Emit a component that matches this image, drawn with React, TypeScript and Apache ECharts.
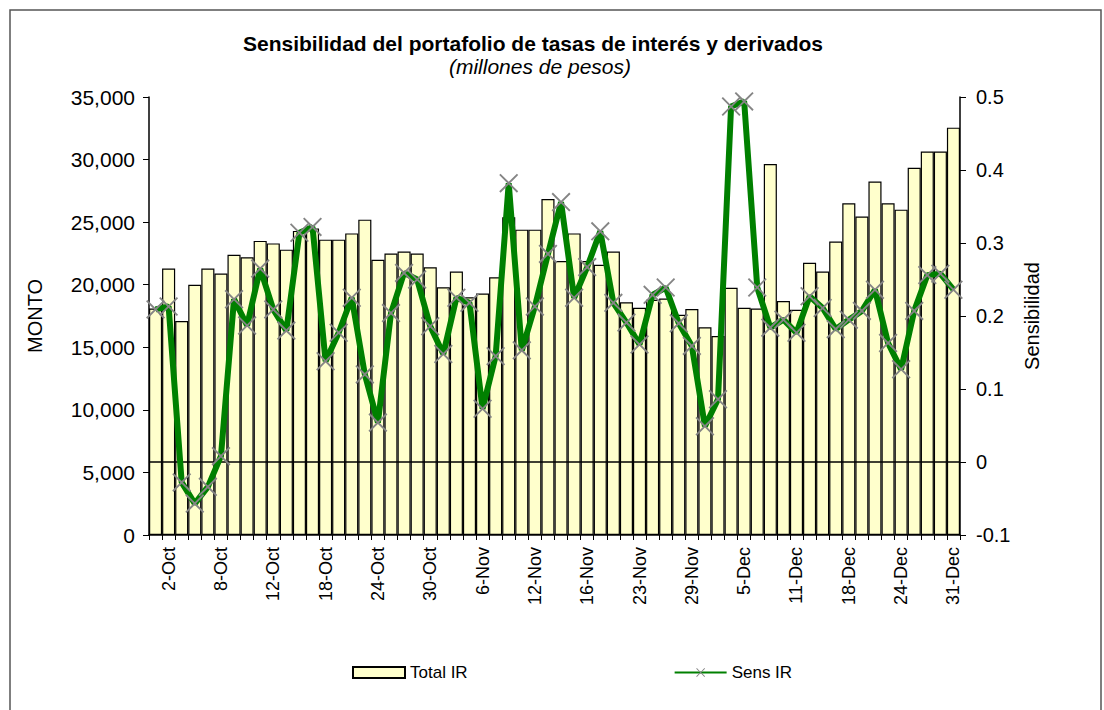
import React, { useEffect, useRef } from "react";
import * as echarts from "echarts";

const categories = [
  "1-Oct", "2-Oct", "3-Oct", "4-Oct", "5-Oct", "8-Oct", "9-Oct", "10-Oct", "11-Oct", "12-Oct",
  "15-Oct", "16-Oct", "17-Oct", "18-Oct", "19-Oct", "22-Oct", "23-Oct", "24-Oct", "25-Oct", "26-Oct",
  "29-Oct", "30-Oct", "31-Oct", "1-Nov", "5-Nov", "6-Nov", "7-Nov", "8-Nov", "9-Nov", "12-Nov",
  "13-Nov", "14-Nov", "15-Nov", "16-Nov", "20-Nov", "21-Nov", "22-Nov", "23-Nov", "26-Nov", "27-Nov",
  "28-Nov", "29-Nov", "30-Nov", "3-Dec", "4-Dec", "5-Dec", "6-Dec", "7-Dec", "10-Dec", "11-Dec",
  "13-Dec", "14-Dec", "17-Dec", "18-Dec", "19-Dec", "20-Dec", "21-Dec", "24-Dec", "26-Dec", "27-Dec",
  "28-Dec", "31-Dec",
];

const totalIR = [
  18100, 21300, 17100, 20000, 21300, 20900, 22400, 22200, 23500, 23300,
  22800, 24300, 24500, 23600, 23600, 24100, 25200, 22000, 22500, 22650,
  22500, 21400, 19800, 21050, 19000, 19300, 20600, 25400, 24400, 24400,
  26850, 21900, 24100, 21900, 21600, 22650, 18600, 18150, 18800, 18900,
  17600, 18050, 16600, 15900, 19750, 18150, 18100, 29650, 18700, 18000,
  21750, 21050, 23450, 26500, 25450, 28250, 26500, 26000, 29350, 30650,
  30650, 32550,
];

const sensIR = [
  0.209, 0.213, -0.028, -0.057, -0.034, 0.008, 0.223, 0.187, 0.265, 0.209,
  0.18, 0.314, 0.322, 0.138, 0.177, 0.225, 0.12, 0.054, 0.204, 0.259,
  0.25, 0.186, 0.148, 0.225, 0.218, 0.073, 0.145, 0.382, 0.153, 0.213,
  0.285, 0.356, 0.225, 0.267, 0.316, 0.218, 0.191, 0.161, 0.229, 0.239,
  0.19, 0.159, 0.049, 0.086, 0.487, 0.494, 0.239, 0.184, 0.195, 0.177,
  0.227, 0.211, 0.182, 0.195, 0.207, 0.236, 0.163, 0.127, 0.207, 0.256,
  0.258, 0.236,
];

const titleText = "Sensibilidad del portafolio de tasas de interés y derivados";
const subtitleText = "(millones de pesos)";

const FONT = "'Liberation Sans', Arial, sans-serif";
const CROSS =
  "path://M0,0.7 L0.7,0 L5,4.3 L9.3,0 L10,0.7 L5.7,5 L10,9.3 L9.3,10 L5,5.7 L0.7,10 L0,9.3 L4.3,5 Z";

export default function App() {
  const ref = useRef<HTMLDivElement>(null);
  useEffect(() => {
    if (!ref.current) return;
    const chart = echarts.init(ref.current, null, { renderer: "svg" });
    chart.setOption({
      animation: false,
      backgroundColor: "#ffffff",
      textStyle: { fontFamily: FONT },
      graphic: [
        {
          type: "rect",
          shape: { x: 10, y: 10, width: 1091, height: 720 },
          style: { fill: "none", stroke: "#555", lineWidth: 1.5 },
          silent: true,
        },
        {
          type: "text",
          x: 533,
          y: 43,
          style: {
            text: titleText,
            font: "bold 21px " + FONT,
            fill: "#000",
            textAlign: "center",
            textVerticalAlign: "middle",
          },
        },
        {
          type: "text",
          x: 540,
          y: 66,
          style: {
            text: subtitleText,
            font: "italic 21px " + FONT,
            fill: "#000",
            textAlign: "center",
            textVerticalAlign: "middle",
          },
        },
      ],
      legend: {
        left: 347,
        top: 659,
        itemGap: 206,
        itemWidth: 52,
        itemHeight: 11,
        textStyle: { fontSize: 17, color: "#000", fontFamily: FONT },
        data: [
          { name: "Total IR", icon: "rect" },
          { name: "Sens IR" },
        ],
      },
      grid: { left: 149, right: 144, top: 97, bottom: 175, containLabel: false },
      xAxis: {
        type: "category",
        data: categories,
        boundaryGap: true,
        axisLine: { lineStyle: { color: "#000", width: 1.5 } },
        axisTick: { show: true, interval: 0, length: 5, lineStyle: { color: "#000" } },
        axisLabel: {
          interval: (index: number) => index % 4 === 1,
          rotate: 90,
          fontSize: 18,
          color: "#000",
          margin: 12,
        },
      },
      yAxis: [
        {
          type: "value",
          min: 0,
          max: 35000,
          interval: 5000,
          name: "MONTO",
          nameLocation: "middle",
          nameRotate: 90,
          nameGap: 104,
          nameTextStyle: { fontSize: 20, color: "#000" },
          axisLine: { show: true, lineStyle: { color: "#000", width: 1.5 } },
          axisTick: { show: true, length: 6, lineStyle: { color: "#000" } },
          splitLine: { show: false },
          axisLabel: {
            fontSize: 21,
            color: "#000",
            margin: 14,
            formatter: (v: number) => v.toLocaleString("en-US"),
          },
        },
        {
          type: "value",
          min: -0.1,
          max: 0.5,
          interval: 0.1,
          position: "right",
          name: "Sensibilidad",
          nameLocation: "middle",
          nameRotate: 90,
          nameGap: 62,
          nameTextStyle: { fontSize: 20, color: "#000" },
          axisLine: { show: true, onZero: false, lineStyle: { color: "#000", width: 1.5 } },
          axisTick: { show: true, length: 6, lineStyle: { color: "#000" } },
          splitLine: { show: false },
          axisLabel: {
            fontSize: 20,
            color: "#000",
            margin: 16,
            formatter: (v: number) => String(Math.round(v * 10) / 10),
          },
        },
      ],
      series: [
        {
          name: "Total IR",
          type: "bar",
          data: totalIR,
          yAxisIndex: 0,
          barCategoryGap: "0%",
          itemStyle: { color: "#FFFFCC", borderColor: "#000", borderWidth: 1.2 },
        },
        {
          name: "Sens IR",
          type: "line",
          data: sensIR,
          yAxisIndex: 1,
          symbol: CROSS,
          symbolSize: 19,
          showAllSymbol: true,
          itemStyle: { color: "#858585" },
          lineStyle: { color: "#008000", width: 6 },
          z: 5,
          markLine: {
            silent: true,
            symbol: "none",
            label: { show: false },
            lineStyle: { color: "#000", width: 1.5, type: "solid" },
            data: [{ yAxis: 0 }],
          },
        },
      ],
    });
    return () => chart.dispose();
  }, []);
  return (
    <div
      ref={ref}
      style={{ position: "absolute", left: 0, top: 0, width: 1104, height: 710 }}
    />
  );
}
